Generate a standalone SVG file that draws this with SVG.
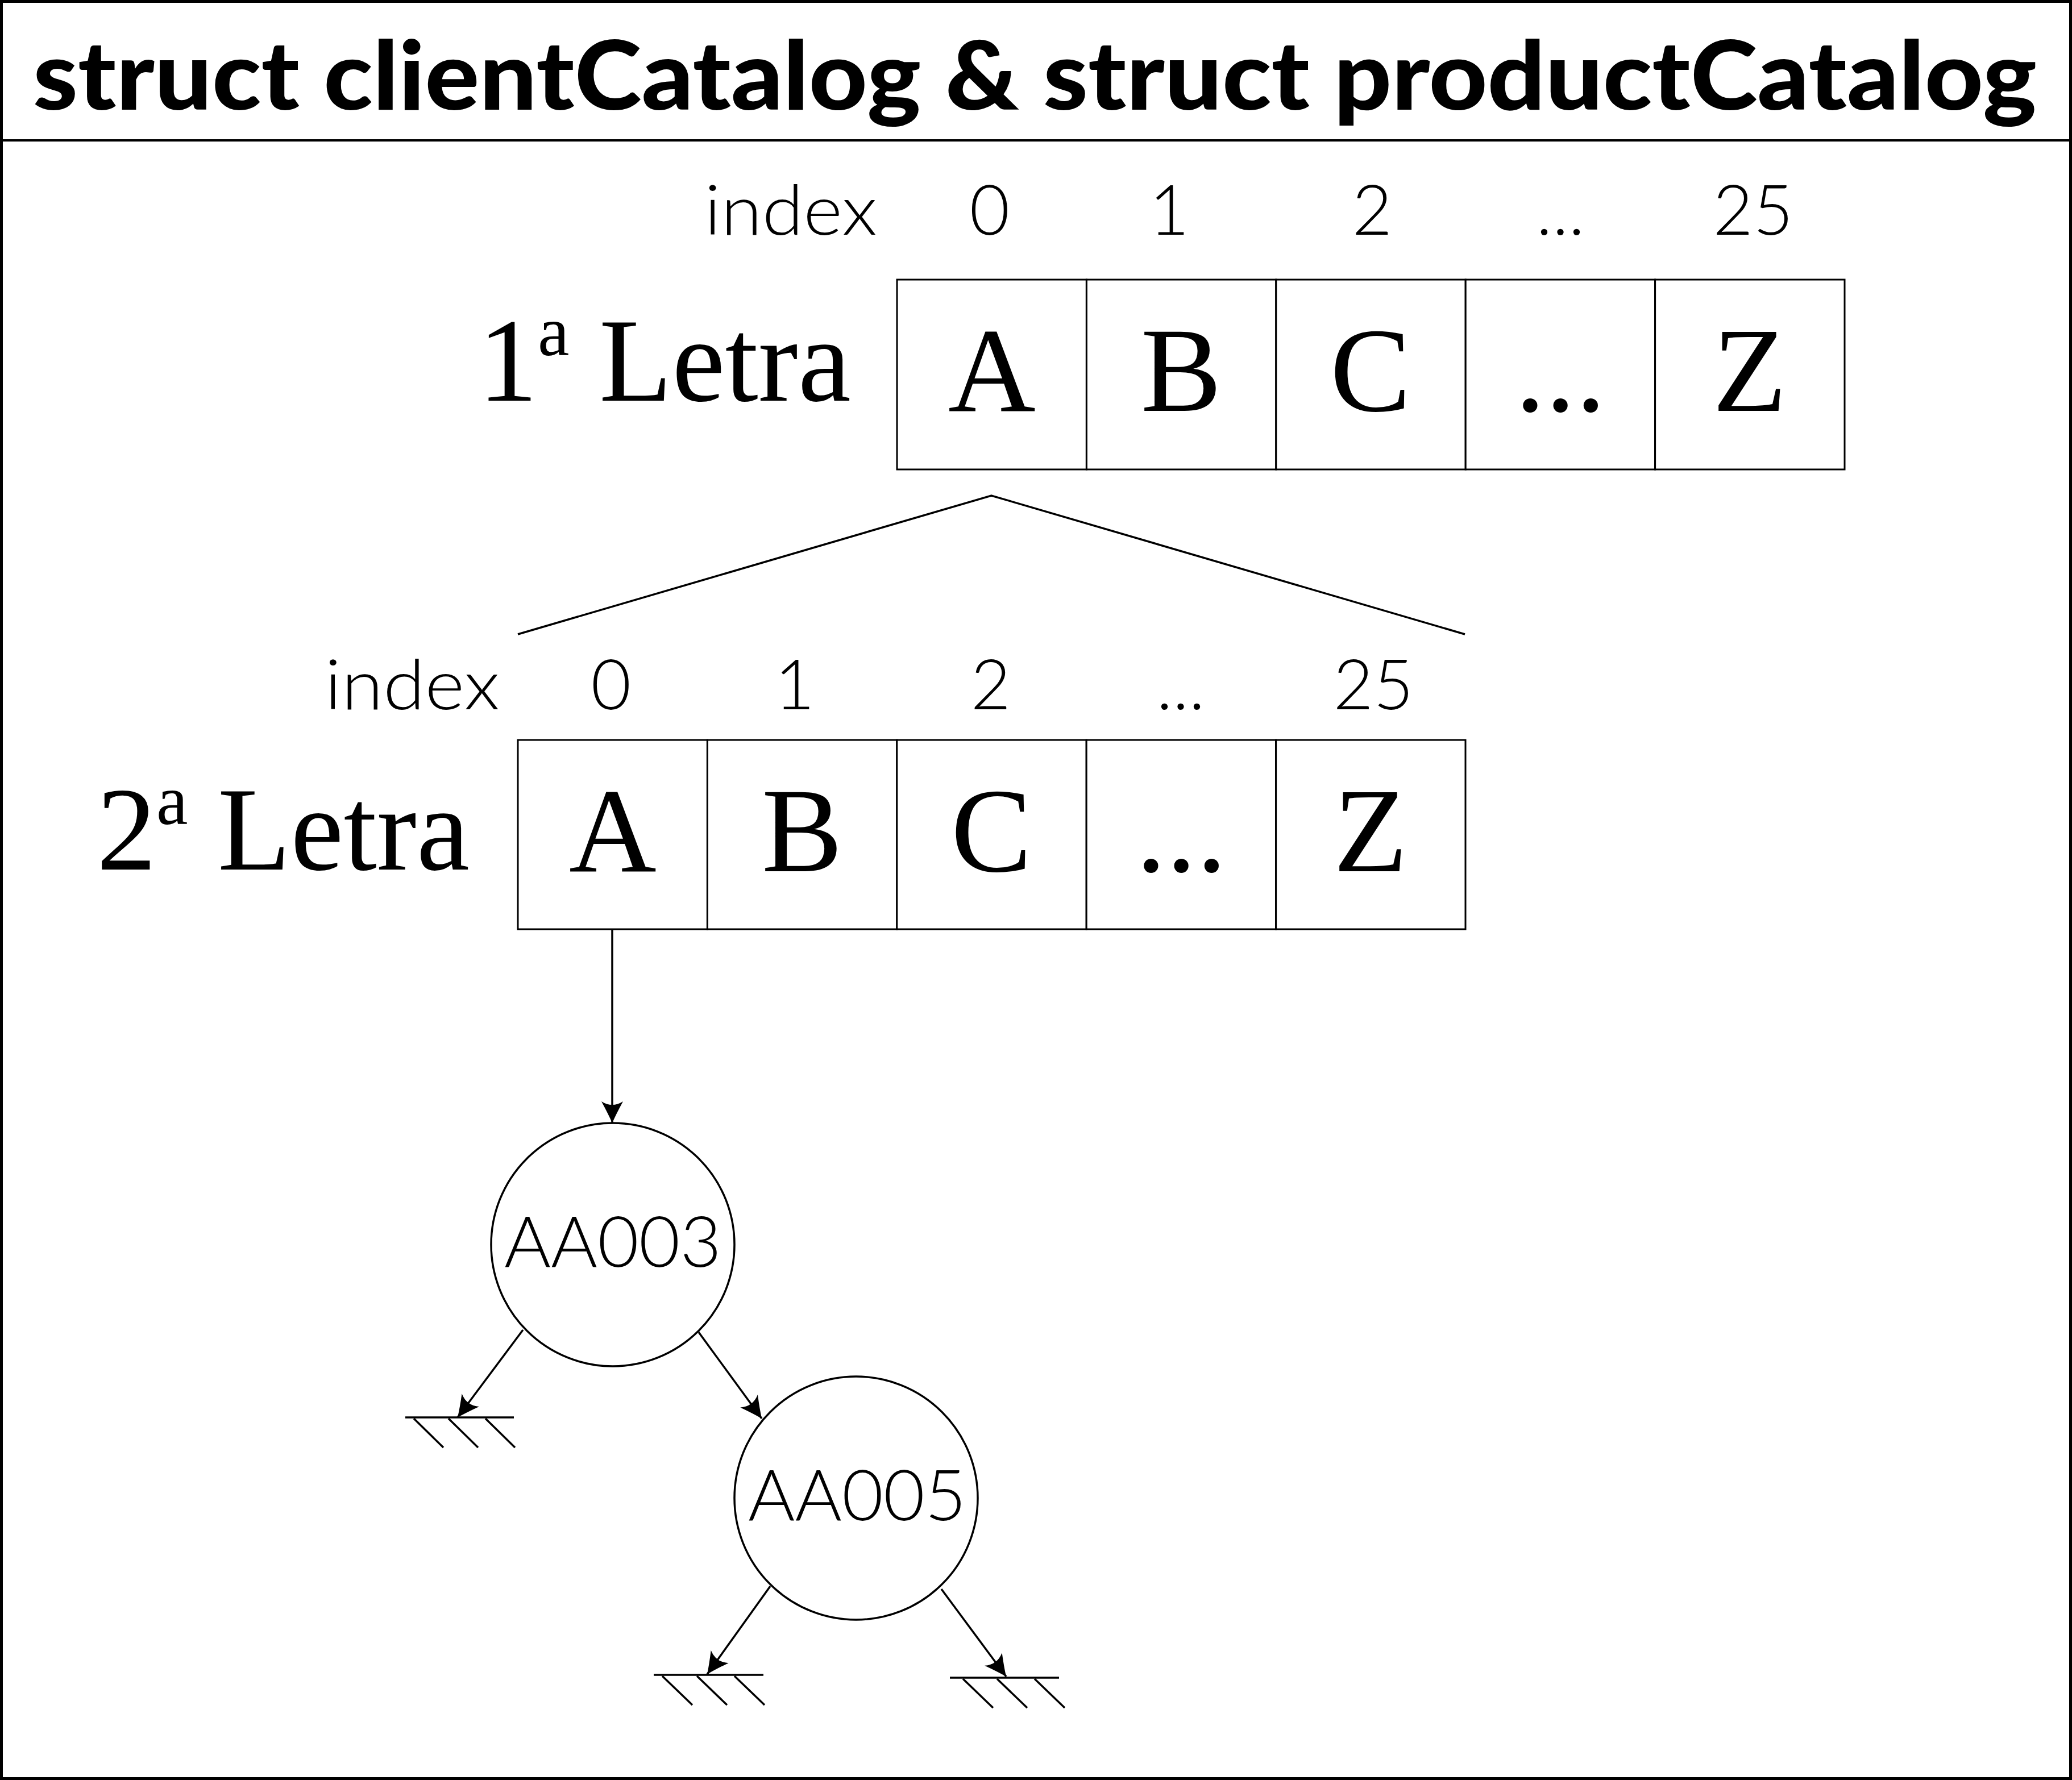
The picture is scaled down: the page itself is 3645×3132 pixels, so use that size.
<svg xmlns="http://www.w3.org/2000/svg" width="3645" height="3132" viewBox="0 0 3645 3132">
<style>
.frame{fill:#fff;stroke:#000;stroke-width:5}
.cell{fill:#fff;stroke:#000;stroke-width:3}
.ln{fill:none;stroke:#000;stroke-width:3.5}
.conn{fill:none;stroke:#000;stroke-width:3.5}
.node{fill:#fff;stroke:#000;stroke-width:3.5}
.title{font-family:Lato,"Open Sans",sans-serif;font-weight:900;font-size:168px;fill:#000}
.idx{font-family:Lato,"Open Sans",sans-serif;font-weight:300;font-size:122px;fill:#000;text-anchor:middle}
.idxl{font-family:Lato,"Open Sans",sans-serif;font-weight:300;font-size:122px;fill:#000}
.let{font-family:"Liberation Serif","Times New Roman",serif;font-size:213px;fill:#000;text-anchor:middle}
.lab{font-family:"Liberation Serif","Times New Roman",serif;font-size:210px;fill:#000;text-anchor:end}
.nt{font-family:Lato,"Open Sans",sans-serif;font-weight:300;font-size:124px;fill:#000;text-anchor:middle}
</style>
<defs>
<marker id="arr" markerUnits="userSpaceOnUse" viewBox="-40 -22 42 44" markerWidth="42" markerHeight="44" refX="0" refY="0" orient="auto">
<path d="M0,0 Q-16,-7 -38,-19 Q-26,0 -38,19 Q-16,7 0,0 Z" fill="#000"/>
</marker>
</defs>
<rect class="frame" x="2.5" y="2.5" width="3640" height="3127"/>
<line x1="0" y1="247" x2="3645" y2="247" stroke="#000" stroke-width="4"/>
<text class="title" x="58" y="193" textLength="3525" lengthAdjust="spacingAndGlyphs">struct clientCatalog &amp; struct productCatalog</text>

<g id="table1">
<text class="idxl" x="1239" y="413" textLength="304" lengthAdjust="spacingAndGlyphs">index</text>
<text class="idx" x="1741" y="413">0</text>
<text class="idx" x="2057" y="413">1</text>
<text class="idx" x="2414" y="413">2</text>
<text class="idx" x="2745" y="413">...</text>
<text class="idx" x="3084" y="413">25</text>
<text class="lab" x="1497" y="705">1<tspan font-size="125" dy="-80">a</tspan><tspan dy="80"> Letra</tspan></text>
<rect class="cell" x="1578" y="492" width="333.4" height="334"/>
<rect class="cell" x="1911.4" y="492" width="333.4" height="334"/>
<rect class="cell" x="2244.8" y="492" width="333.4" height="334"/>
<rect class="cell" x="2578.2" y="492" width="333.4" height="334"/>
<rect class="cell" x="2911.6" y="492" width="333.4" height="334"/>
<text class="let" x="1745" y="723">A</text>
<text class="let" x="2078" y="723">B</text>
<text class="let" x="2411" y="723">C</text>
<text class="let" x="2745" y="723">...</text>
<text class="let" x="3078" y="723">Z</text>
</g>

<g id="table2">
<text class="idxl" x="571" y="1248" textLength="308" lengthAdjust="spacingAndGlyphs">index</text>
<text class="idx" x="1075" y="1248">0</text>
<text class="idx" x="1398" y="1248">1</text>
<text class="idx" x="1743" y="1248">2</text>
<text class="idx" x="2077" y="1248">...</text>
<text class="idx" x="2416" y="1248">25</text>
<text class="lab" x="826" y="1530">2<tspan font-size="125" dy="-80">a</tspan><tspan dy="80"> Letra</tspan></text>
<rect class="cell" x="911" y="1302" width="333.4" height="333"/>
<rect class="cell" x="1244.4" y="1302" width="333.4" height="333"/>
<rect class="cell" x="1577.8" y="1302" width="333.4" height="333"/>
<rect class="cell" x="1911.2" y="1302" width="333.4" height="333"/>
<rect class="cell" x="2244.6" y="1302" width="333.4" height="333"/>
<text class="let" x="1078" y="1533">A</text>
<text class="let" x="1411" y="1533">B</text>
<text class="let" x="1744" y="1533">C</text>
<text class="let" x="2078" y="1533">...</text>
<text class="let" x="2411" y="1533">Z</text>
</g>

<g id="AA003">
<circle class="node" cx="1078" cy="2190" r="214"/>
<text class="nt" x="1078" y="2229" textLength="382" lengthAdjust="spacingAndGlyphs">AA003</text>
</g>
<g id="AA005">
<circle class="node" cx="1506" cy="2636" r="214"/>
<text class="nt" x="1508" y="2675" textLength="384" lengthAdjust="spacingAndGlyphs">AA005</text>
</g>

<g id="ground1">
<line class="ln" x1="713" y1="2494" x2="904" y2="2494"/>
<line class="ln" x1="728" y1="2496" x2="780" y2="2547"/>
<line class="ln" x1="789" y1="2496" x2="841" y2="2547"/>
<line class="ln" x1="854" y1="2496" x2="906" y2="2547"/>
</g>
<g id="ground2">
<line class="ln" x1="1150" y1="2947" x2="1343" y2="2947"/>
<line class="ln" x1="1165" y1="2949" x2="1218" y2="3000"/>
<line class="ln" x1="1226" y1="2949" x2="1279" y2="3000"/>
<line class="ln" x1="1292" y1="2949" x2="1345" y2="3000"/>
</g>
<g id="ground3">
<line class="ln" x1="1671" y1="2952" x2="1863" y2="2952"/>
<line class="ln" x1="1694" y1="2954" x2="1747" y2="3005"/>
<line class="ln" x1="1754" y1="2954" x2="1807" y2="3005"/>
<line class="ln" x1="1820" y1="2954" x2="1873" y2="3005"/>
</g>

<g id="connectors">
<polyline class="conn" points="911,1116 1744,872 2577,1116"/>
<line class="conn" x1="1077" y1="1636" x2="1077" y2="1976" marker-end="url(#arr)"/>
<line class="conn" x1="920" y1="2340" x2="805" y2="2494" marker-end="url(#arr)"/>
<line class="conn" x1="1229" y1="2344" x2="1340" y2="2496" marker-end="url(#arr)"/>
<line class="conn" x1="1355" y1="2791" x2="1244" y2="2946" marker-end="url(#arr)"/>
<line class="conn" x1="1656" y1="2796" x2="1770" y2="2950" marker-end="url(#arr)"/>
</g>
</svg>
